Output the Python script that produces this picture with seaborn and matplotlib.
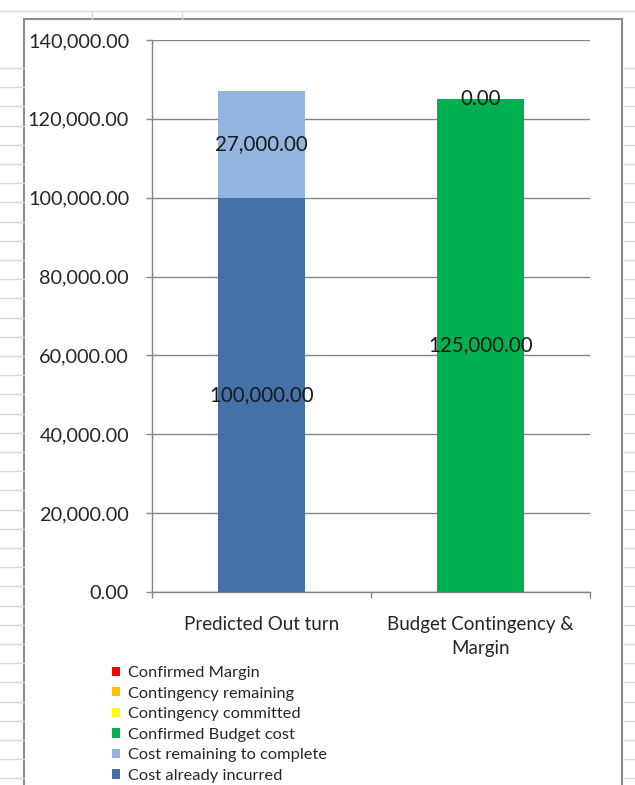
import numpy as np
import pandas as pd
import matplotlib
matplotlib.use("Agg")
import matplotlib.pyplot as plt
from matplotlib.patches import Patch, Rectangle
from matplotlib.lines import Line2D
import seaborn as sns

# data, bottom of stack first
categories = ["Predicted Out turn", "Budget Contingency &\nMargin"]
series_names = ["Cost already incurred", "Cost remaining to complete", "Confirmed Budget cost",
                "Contingency committed", "Contingency remaining", "Confirmed Margin"]
cost_incurred = [100000, 0]
cost_remaining = [27000, 0]
budget_cost = [0, 125000]
contingency_committed = [0, 0]
contingency_remaining = [0, 0]
confirmed_margin = [0, 0]
series_colors = ["#4571A8", "#93B4DE", "#00B050", "#FFFF00", "#FFC000", "#FF0000"]
zero_label_cat = "Budget Contingency &\nMargin"

values = [cost_incurred, cost_remaining, budget_cost,
          contingency_committed, contingency_remaining, confirmed_margin]
df = pd.DataFrame(np.array(values).T, columns=series_names)
df["category"] = categories
cum = df[series_names].cumsum(axis=1)

sns.set_theme(style="white")
plt.rcParams["font.family"] = ["Lato", "DejaVu Sans"]
txt = "#262626"

fig = plt.figure(figsize=(6.35, 7.85), dpi=100)
ax = fig.add_axes([152 / 635, 1 - 592 / 785, 438 / 635, 552 / 785])

# spreadsheet backdrop
bg = "#d9d9d9"
fig.add_artist(Line2D([0, 1], [1 - 11 / 785] * 2, color=bg, lw=1, transform=fig.transFigure))
for xv in [92, 182]:
    fig.add_artist(Line2D([xv / 635] * 2, [1 - 11 / 785, 1 - 19 / 785], color=bg, lw=1,
                          transform=fig.transFigure))
for yv in np.arange(68, 785, 19.2):
    fig.add_artist(Line2D([0, 24 / 635], [1 - yv / 785] * 2, color=bg, lw=1, transform=fig.transFigure))
    fig.add_artist(Line2D([624 / 635, 1], [1 - yv / 785] * 2, color=bg, lw=1, transform=fig.transFigure))
fig.add_artist(Rectangle((24 / 635, -0.05), 598 / 635, 1.05 - 19 / 785, fill=False,
                         edgecolor="#8c8c8c", lw=1.5, transform=fig.transFigure))

# stacked bars: draw cumulative totals from the top down
for name, color in reversed(list(zip(series_names, series_colors))):
    sns.barplot(x=df["category"], y=cum[name], color=color, width=0.4, ax=ax,
                saturation=1, linewidth=0, zorder=3)

# labels
for i, cat in enumerate(categories):
    bottom = 0
    for name in series_names:
        v = df.loc[i, name]
        if v > 0 or (cat == zero_label_cat and name == "Contingency committed"):
            ax.text(i, bottom + v / 2, f"{v:,.2f}", ha="center", va="center",
                    fontsize=14.8, color="#1a1a1a", zorder=5)
        bottom += v

ax.set_ylim(0, 140000)
ax.set_xlim(-0.5, 1.5)
ax.set_yticks(np.arange(0, 140001, 20000))
ax.set_yticklabels([f"{v:,.2f}" for v in np.arange(0, 140001, 20000)], fontsize=14.3, color=txt)
ax.yaxis.grid(True, color="#868686", lw=1)
ax.set_axisbelow(True)
ax.set_xticks([0, 1])
ax.set_xticklabels(categories, fontsize=13.5, color=txt, linespacing=1.5)
ax.set_xlabel("")
ax.set_ylabel("")
ax.tick_params(axis="x", length=0, pad=17)
ax.tick_params(axis="y", length=4.5, color="#868686", width=1, pad=12, left=True)
ax.set_xticks([-0.5, 0.5, 1.5], minor=True)
ax.tick_params(axis="x", which="minor", length=4.5, color="#868686", width=1, bottom=True)
for s in ["top", "right"]:
    ax.spines[s].set_visible(False)
for s in ["left", "bottom"]:
    ax.spines[s].set_color("#868686")
    ax.spines[s].set_linewidth(1)

handles = [Patch(facecolor=c, edgecolor="none", label=n)
           for n, c in reversed(list(zip(series_names, series_colors)))]
fig.legend(handles=handles, loc="upper left", bbox_to_anchor=(112 / 635, 1 - 666 / 785),
           frameon=False, fontsize=11.8, handlelength=0.5, handleheight=0.5,
           handletextpad=0.45, labelspacing=0.40, borderpad=0, borderaxespad=0,
           labelcolor=txt)

fig.savefig("out.png", dpi=100)
